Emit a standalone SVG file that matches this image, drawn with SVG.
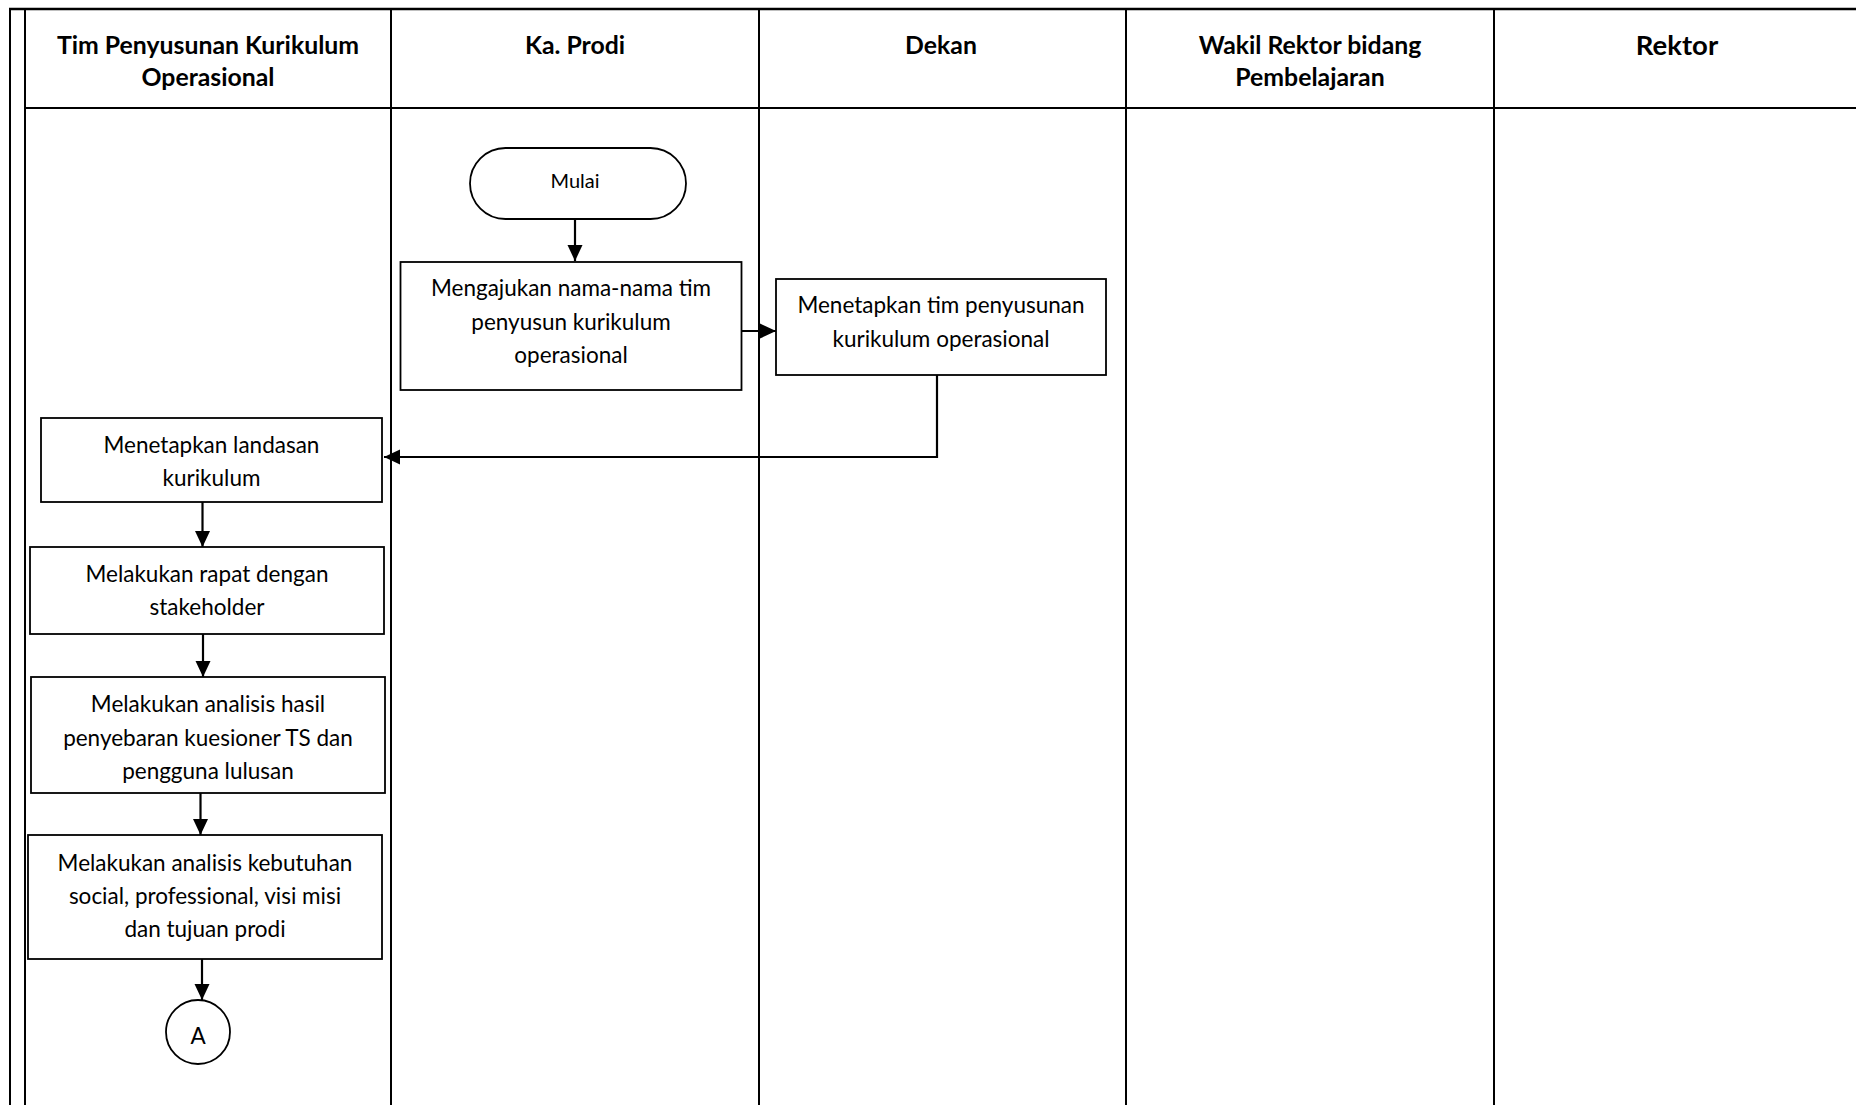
<svg xmlns="http://www.w3.org/2000/svg" width="1856" height="1105" viewBox="0 0 1856 1105">
<style>
.lane{stroke:#000;stroke-width:2;fill:none}
.box{fill:#fff;stroke:#000;stroke-width:1.8}
.hd{font-family:Lato,"Liberation Sans",sans-serif;font-weight:bold;font-size:24.8px;fill:#000;text-anchor:middle}
.tx{font-family:Lato,"Liberation Sans",sans-serif;font-size:22.5px;fill:#000;text-anchor:middle}
.cn{stroke:#000;stroke-width:2.2;fill:none;marker-end:url(#ah)}
</style>
<defs>
<marker id="ah" markerWidth="17" markerHeight="16" refX="16" refY="8" orient="auto" markerUnits="userSpaceOnUse">
<path d="M0,0.5 L16,8 L0,15.5 z" fill="#000"/>
</marker>
</defs>
<rect width="1856" height="1105" fill="#fff"/>
<g id="lanes">
<line class="lane" x1="9" y1="9" x2="1856" y2="9" style="stroke-width:2.6"/>
<line class="lane" x1="10" y1="9" x2="10" y2="1105"/>
<line class="lane" x1="25" y1="9" x2="25" y2="1105"/>
<line class="lane" x1="25" y1="108" x2="1856" y2="108" style="stroke-width:2.2"/>
<line class="lane" x1="391" y1="9" x2="391" y2="1105"/>
<line class="lane" x1="759" y1="9" x2="759" y2="1105"/>
<line class="lane" x1="1126" y1="9" x2="1126" y2="1105"/>
<line class="lane" x1="1494" y1="9" x2="1494" y2="1105"/>
<text class="hd" x="208" y="53.5">Tim Penyusunan Kurikulum</text>
<text class="hd" x="208" y="85.5">Operasional</text>
<text class="hd" x="575" y="53.5">Ka. Prodi</text>
<text class="hd" x="941" y="53.5">Dekan</text>
<text class="hd" x="1310" y="53.5">Wakil Rektor bidang</text>
<text class="hd" x="1310" y="85.5">Pembelajaran</text>
<text class="hd" x="1677" y="54.5" style="font-size:27.5px">Rektor</text>
</g>
<g id="connectors">
<line class="cn" x1="575" y1="219" x2="575" y2="261"/>
<line class="cn" x1="742" y1="331" x2="776" y2="331"/>
<polyline class="cn" points="937,375 937,457 384,457"/>
<line class="cn" x1="202.5" y1="502" x2="202.5" y2="547"/>
<line class="cn" x1="203" y1="634" x2="203" y2="677"/>
<line class="cn" x1="200.5" y1="793" x2="200.5" y2="835"/>
<line class="cn" x1="202" y1="959" x2="202" y2="1000"/>
</g>
<g id="mulai">
<rect class="box" x="470" y="148" width="216" height="71" rx="35.5" ry="35.5"/>
<text class="tx" x="575" y="188" style="font-size:20px">Mulai</text>
</g>
<g id="mengajukan">
<rect class="box" x="400.5" y="262" width="341" height="128"/>
<text class="tx" x="571" y="296">Mengajukan nama-nama tim</text>
<text class="tx" x="571" y="329.5">penyusun kurikulum</text>
<text class="tx" x="571" y="363">operasional</text>
</g>
<g id="menetapkan-tim">
<rect class="box" x="776" y="279" width="330" height="96"/>
<text class="tx" x="941" y="313.3">Menetapkan tim penyusunan</text>
<text class="tx" x="941" y="347">kurikulum operasional</text>
</g>
<g id="landasan">
<rect class="box" x="41" y="418" width="341" height="84"/>
<text class="tx" x="211.5" y="452.5">Menetapkan landasan</text>
<text class="tx" x="211.5" y="486">kurikulum</text>
</g>
<g id="rapat">
<rect class="box" x="30" y="547" width="354" height="87"/>
<text class="tx" x="207" y="582">Melakukan rapat dengan</text>
<text class="tx" x="207" y="615">stakeholder</text>
</g>
<g id="analisis-hasil">
<rect class="box" x="31" y="677" width="354" height="116"/>
<text class="tx" x="208" y="712">Melakukan analisis hasil</text>
<text class="tx" x="208" y="745.5">penyebaran kuesioner TS dan</text>
<text class="tx" x="208" y="779">pengguna lulusan</text>
</g>
<g id="analisis-kebutuhan">
<rect class="box" x="28" y="835" width="354" height="124"/>
<text class="tx" x="205" y="870.5">Melakukan analisis kebutuhan</text>
<text class="tx" x="205" y="904">social, professional, visi misi</text>
<text class="tx" x="205" y="937">dan tujuan prodi</text>
</g>
<g id="konektor-a">
<circle class="box" cx="198" cy="1032" r="32"/>
<text class="tx" x="198" y="1044">A</text>
</g>
</svg>
